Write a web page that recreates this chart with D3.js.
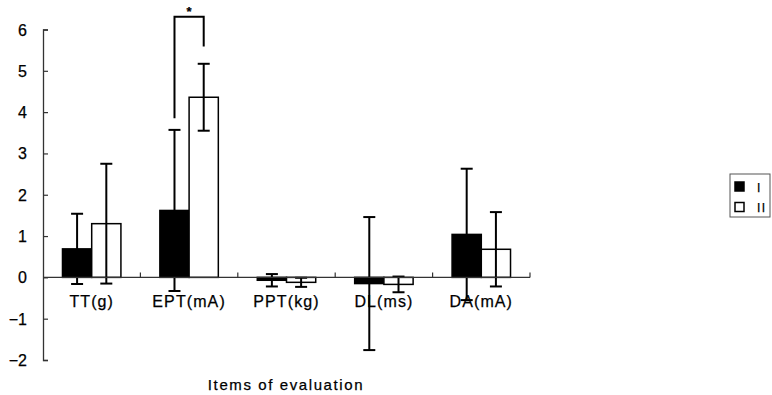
<!DOCTYPE html>
<html>
<head>
<meta charset="utf-8">
<script src="https://cdn.jsdelivr.net/npm/d3@7"></script>
<style>
  html, body { margin: 0; padding: 0; background: #fff; }
  text { font-family: "Liberation Sans", Arial, sans-serif; fill: #000; stroke: #000; stroke-width: 0.25px; }
</style>
</head>
<body>
<div id="container"></div>
<script>
// data
const categories = ['TT(g)', 'EPT(mA)', 'PPT(kg)', 'DL(ms)', 'DA(mA)']
const groups = ['I', 'II']
const meanI = [0.69, 1.62, -0.07, -0.15, 1.04]
const sdI = [0.85, 1.95, 0.15, 1.61, 1.59]
const meanII = [1.30, 4.36, -0.12, -0.17, 0.68]
const sdII = [1.45, 0.81, 0.11, 0.19, 0.90]
const yTicks = [-2, -1, 0, 1, 2, 3, 4, 5, 6]
// significance bracket (EPT: I vs II)
const sigTop = 6.31
const sigLeftEnd = 3.85
const sigRightEnd = 5.59

const width = 772
const height = 395

let svg = d3.select('#container')
  .append('svg')
  .attr('width', width)
  .attr('height', height)

let x0 = d3.scaleBand()
  .domain(categories)
  .range([43, 530])
  .paddingInner(0.4)
  .paddingOuter(0.2)

let x1 = d3.scaleBand()
  .domain(groups)
  .range([0, x0.bandwidth()])

let y = d3.scaleLinear()
  .domain([-2, 6])
  .range([360, 29.5])

let fills = { I: '#000', II: '#fff' }

let data = categories.map((c, i) => ({
  cat: c,
  values: [
    { g: 'I', mean: meanI[i], sd: sdI[i] },
    { g: 'II', mean: meanII[i], sd: sdII[i] }
  ]
}))

// y axis, ticks pointing inward
let yAxis = d3.axisRight(y).tickValues(yTicks).tickSize(5).tickFormat('')
let yg = svg.append('g').attr('transform', 'translate(43,0)').call(yAxis)
yg.select('.domain').attr('stroke', '#333').attr('stroke-width', 1.3)
yg.selectAll('.tick line').attr('stroke', '#333').attr('stroke-width', 1.2)

svg.append('g').selectAll('text')
  .data(yTicks)
  .enter().append('text')
  .attr('x', 27)
  .attr('y', d => y(d) + 6)
  .attr('text-anchor', 'end')
  .style('font-size', '16px')
  .text(d => d < 0 ? '\u2212' + Math.abs(d) : d)

// bars
let cat = svg.append('g').selectAll('g')
  .data(data)
  .enter().append('g')
  .attr('transform', d => `translate(${x0(d.cat)},0)`)

cat.selectAll('rect')
  .data(d => d.values)
  .enter().append('rect')
  .attr('x', d => x1(d.g))
  .attr('y', d => y(Math.max(0, d.mean)))
  .attr('width', x1.bandwidth())
  .attr('height', d => Math.abs(y(d.mean) - y(0)))
  .style('fill', d => fills[d.g])
  .style('stroke', '#000')
  .style('stroke-width', 1.5)

// x axis with ticks at category boundaries
let xBounds = d3.range(categories.length + 1).map(i => 43 + i * x0.step())
svg.append('line')
  .attr('x1', 43).attr('x2', 530)
  .attr('y1', y(0)).attr('y2', y(0))
  .style('stroke', '#333').style('stroke-width', 1.3)
svg.append('g').selectAll('line')
  .data(xBounds.slice(1))
  .enter().append('line')
  .attr('x1', d => d).attr('x2', d => d)
  .attr('y1', y(0)).attr('y2', y(0) - 5)
  .style('stroke', '#333').style('stroke-width', 1.2)

// error bars
let capW = 12
let err = cat.selectAll('.err')
  .data(d => d.values)
  .enter().append('g')
  .attr('class', 'err')
  .attr('transform', d => `translate(${x1(d.g) + x1.bandwidth() / 2},0)`)
err.append('line')
  .attr('y1', d => y(d.mean + d.sd))
  .attr('y2', d => y(d.mean - d.sd))
  .style('stroke', '#000').style('stroke-width', 2)
err.selectAll('.cap')
  .data(d => [d.mean + d.sd, d.mean - d.sd])
  .enter().append('line')
  .attr('class', 'cap')
  .attr('x1', -capW / 2).attr('x2', capW / 2)
  .attr('y1', d => y(d)).attr('y2', d => y(d))
  .style('stroke', '#000').style('stroke-width', 2)

// category labels
svg.append('g').selectAll('text')
  .data(categories)
  .enter().append('text')
  .attr('x', d => x0(d) + x0.bandwidth() / 2)
  .attr('y', 307)
  .attr('text-anchor', 'middle')
  .style('font-size', '16px')
  .style('letter-spacing', '1.1px')
  .text(d => d)

// significance bracket
let ept = 'EPT(mA)'
let lx = x0(ept) + x1('I') + x1.bandwidth() / 2
let rx = x0(ept) + x1('II') + x1.bandwidth() / 2
svg.append('path')
  .attr('d', `M${lx},${y(sigLeftEnd)}V${y(sigTop)}H${rx}V${y(sigRightEnd)}`)
  .style('fill', 'none').style('stroke', '#000').style('stroke-width', 2)
svg.append('text')
  .attr('x', (lx + rx) / 2)
  .attr('y', y(sigTop) - 1)
  .attr('text-anchor', 'middle')
  .style('font-size', '13px')
  .style('font-weight', 'bold')
  .text('*')

// axis title
svg.append('text')
  .attr('x', 286)
  .attr('y', 390)
  .attr('text-anchor', 'middle')
  .style('font-size', '15px')
  .style('letter-spacing', '1.6px')
  .text('Items of evaluation')

// legend
let legend = svg.append('g').attr('transform', 'translate(730,174)')
legend.append('rect')
  .attr('width', 40).attr('height', 43)
  .style('fill', '#fff').style('stroke', '#555').style('stroke-width', 1)
let li = legend.selectAll('.item')
  .data(groups)
  .enter().append('g')
  .attr('class', 'item')
  .attr('transform', (d, i) => `translate(5,${8 + i * 20.5})`)
li.append('rect')
  .attr('width', 9).attr('height', 9)
  .style('fill', d => fills[d]).style('stroke', '#000').style('stroke-width', 1.5)
li.append('text')
  .attr('x', 22).attr('y', 9.5)
  .style('font-size', '12px')
  .style('letter-spacing', '1.5px')
  .text(d => d)
</script>
</body>
</html>
